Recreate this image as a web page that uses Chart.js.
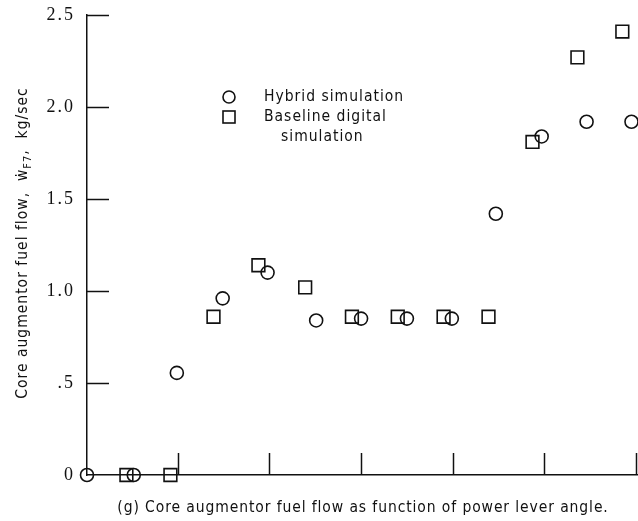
<!DOCTYPE html>
<html>
<head>
<meta charset="utf-8">
<script src="https://cdn.jsdelivr.net/npm/chart.js@4.4.1/dist/chart.umd.min.js"></script>
<style>
  html, body { margin: 0; padding: 0; background: #fff; }
</style>
</head>
<body>
<canvas id="chart" width="638" height="521"></canvas>
<script>
// Power lever angle positions (arbitrary axis units, one per major tick)
const hybridX = [0, 0.51, 0.98, 1.48, 1.97, 2.50, 2.99, 3.49, 3.98, 4.46, 4.96, 5.45, 5.94];
const hybridY = [0, 0, 0.555, 0.96, 1.10, 0.84, 0.85, 0.85, 0.85, 1.42, 1.84, 1.92, 1.92];

const baselineX = [0.43, 0.91, 1.38, 1.87, 2.38, 2.89, 3.39, 3.89, 4.38, 4.86, 5.35, 5.84];
const baselineY = [0, 0, 0.86, 1.14, 1.02, 0.86, 0.86, 0.86, 0.86, 1.81, 2.27, 2.41];

const yTickValues = [0, 0.5, 1.0, 1.5, 2.0, 2.5];
const yTickLabels = ["0", ".5", "1.0", "1.5", "2.0", "2.5"];
const xTickValues = [1, 2, 3, 4, 5, 6];

const seriesNames = ["Hybrid simulation", "Baseline digital", "simulation"];
const caption = "(g) Core augmentor fuel flow as function of power lever angle.";

const INK = "#111";
const SANS = "'DejaVu Sans Condensed', 'Liberation Sans', sans-serif";

function toPoints(xs, ys) {
  return xs.map((x, i) => ({ x: x, y: ys[i] }));
}

// inward ticks, legend, axis title and caption
const decorations = {
  id: "decorations",
  beforeDraw(chart) {
    chart.ctx.letterSpacing = "2px";
  },
  afterDraw(chart) {
    const ctx = chart.ctx;
    const area = chart.chartArea;
    const xs = chart.scales.x;
    const ys = chart.scales.y;
    ctx.save();
    ctx.strokeStyle = INK;
    ctx.lineWidth = 1.5;

    // y ticks pointing into the plot
    yTickValues.slice(1).forEach((v) => {
      const py = Math.round(ys.getPixelForValue(v)) + 0.5;
      ctx.beginPath();
      ctx.moveTo(area.left, py);
      ctx.lineTo(area.left + 22, py);
      ctx.stroke();
    });
    // x ticks pointing up
    xTickValues.forEach((v) => {
      const px = Math.round(xs.getPixelForValue(v)) - 0.5;
      ctx.beginPath();
      ctx.moveTo(px, area.bottom);
      ctx.lineTo(px, area.bottom - 22);
      ctx.stroke();
    });

    // legend
    ctx.lineWidth = 1.6;
    ctx.beginPath();
    ctx.arc(229, 97, 6, 0, Math.PI * 2);
    ctx.stroke();
    ctx.strokeRect(223, 111, 12, 12);
    ctx.fillStyle = INK;
    ctx.letterSpacing = "1px";
    ctx.font = "15.5px " + SANS;
    ctx.textBaseline = "middle";
    ctx.textAlign = "left";
    ctx.fillText(seriesNames[0], 264, 97);
    ctx.fillText(seriesNames[1], 264, 117);
    ctx.fillText(seriesNames[2], 281, 137);

    // caption
    ctx.letterSpacing = "0.9px";
    ctx.textAlign = "center";
    ctx.fillText(caption, 363, 508);

    // rotated y title with subscript
    ctx.save();
    ctx.letterSpacing = "1px";
    ctx.translate(23, 243);
    ctx.rotate(-Math.PI / 2);
    const part1 = "Core augmentor fuel flow,  \u1E87";
    const sub = "F7";
    const part2 = ",  kg/sec";
    ctx.font = "15.5px " + SANS;
    const w1 = ctx.measureText(part1).width;
    const w3 = ctx.measureText(part2).width;
    ctx.font = "11px " + SANS;
    const w2 = ctx.measureText(sub).width;
    let x0 = -(w1 + w2 + w3) / 2;
    ctx.textAlign = "left";
    ctx.font = "15.5px " + SANS;
    ctx.fillText(part1, x0, 0);
    ctx.font = "11px " + SANS;
    ctx.fillText(sub, x0 + w1, 5);
    ctx.font = "15.5px " + SANS;
    ctx.fillText(part2, x0 + w1 + w2, 0);
    ctx.restore();

    ctx.restore();
    ctx.letterSpacing = "0px";
  },
};

const ctx = document.getElementById("chart").getContext("2d");

new Chart(ctx, {
  type: "scatter",
  data: {
    datasets: [
      {
        label: seriesNames[0],
        data: toPoints(hybridX, hybridY),
        pointStyle: "circle",
        pointRadius: 6.5,
        pointBorderWidth: 1.6,
        borderColor: INK,
        backgroundColor: "rgba(0,0,0,0)",
        clip: false,
      },
      {
        label: seriesNames[1],
        data: toPoints(baselineX, baselineY),
        pointStyle: "rect",
        pointRadius: 9,
        pointBorderWidth: 1.6,
        borderColor: INK,
        backgroundColor: "rgba(0,0,0,0)",
        clip: false,
      },
    ],
  },
  options: {
    responsive: false,
    animation: false,
    events: [],
    layout: { autoPadding: false, padding: { top: 15, right: 1, left: 0, bottom: 0 } },
    plugins: {
      legend: { display: false },
      tooltip: { enabled: false },
    },
    scales: {
      x: {
        type: "linear",
        min: 0,
        max: 6,
        ticks: { display: false, stepSize: 1 },
        grid: { display: false, drawTicks: false },
        border: { display: true, color: INK, width: 1.5 },
        afterFit: (s) => {
          s.height = 46;
          s.paddingLeft = 0;
          s.paddingRight = 0;
        },
      },
      y: {
        min: 0,
        max: 2.5,
        afterBuildTicks: (s) => { s.ticks = yTickValues.map((v) => ({ value: v })); },
        ticks: {
          color: INK,
          padding: 12,
          font: { family: "'Liberation Serif', serif", size: 18 },
          callback: (v) => {
            const i = yTickValues.findIndex((t) => Math.abs(t - v) < 1e-6);
            return i >= 0 ? yTickLabels[i] : "";
          },
        },
        grid: { display: false, drawTicks: false },
        border: { display: true, color: INK, width: 1.5 },
        afterFit: (s) => {
          s.width = 87;
          s.paddingTop = 0;
          s.paddingBottom = 0;
        },
      },
    },
  },
  plugins: [decorations],
});
</script>
</body>
</html>
